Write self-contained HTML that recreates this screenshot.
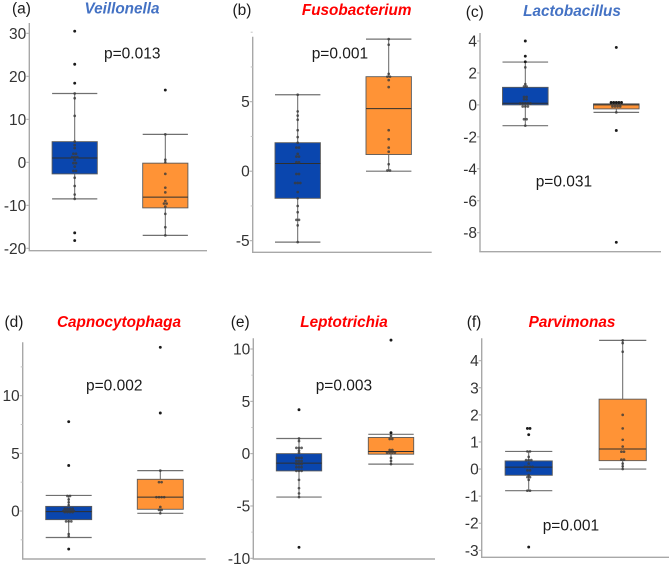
<!DOCTYPE html>
<html>
<head>
<meta charset="utf-8">
<title>Box plots of six bacterial genera</title>
<style>
html,body{margin:0;padding:0;background:#fff;}
svg{display:block;}
text{font-family:"Liberation Sans",sans-serif;}
.panel-label,.p-value{font-size:15.5px;fill:#1a1a1a;}
.genus{font-size:15.3px;font-weight:bold;font-style:italic;text-anchor:middle;}
.tick-label{font-size:15.5px;fill:#333;text-anchor:end;}
</style>
</head>
<body>
<svg id="figure" width="669" height="565" viewBox="0 0 669 565" xmlns="http://www.w3.org/2000/svg">
  <rect width="669" height="565" fill="#fff"/>
  <g id="charts"></g>

  <text class="panel-label" x="12" y="13.5">(a)</text>
  <text class="genus" x="122" y="13.5" fill="#4472C4">Veillonella</text>
  <text class="p-value" x="104" y="58.5">p=0.013</text>

  <text class="panel-label" x="232.5" y="15">(b)</text>
  <text class="genus" x="356.7" y="15" fill="#FF0000">Fusobacterium</text>
  <text class="p-value" x="311.7" y="58.5">p=0.001</text>

  <text class="panel-label" x="465.7" y="17">(c)</text>
  <text class="genus" x="572" y="16" fill="#4472C4">Lactobacillus</text>
  <text class="p-value" x="535.7" y="186.7">p=0.031</text>

  <text class="panel-label" x="4.5" y="327">(d)</text>
  <text class="genus" x="119" y="327" fill="#FF0000">Capnocytophaga</text>
  <text class="p-value" x="86" y="390.7">p=0.002</text>

  <text class="panel-label" x="230.7" y="327">(e)</text>
  <text class="genus" x="344" y="327" fill="#FF0000">Leptotrichia</text>
  <text class="p-value" x="315.7" y="390.7">p=0.003</text>

  <text class="panel-label" x="466.7" y="327">(f)</text>
  <text class="genus" x="572" y="327" fill="#FF0000">Parvimonas</text>
  <text class="p-value" x="542.7" y="530.3">p=0.001</text>
</svg>
<script>
// Box statistics: [lower whisker, Q1, median, Q3, upper whisker]
var aBlueBox = [-8.5, -2.7, 1, 4.8, 16];
var aOrangeBox = [-17, -10.6, -8.1, -0.2, 6.5];
var aBluePoints = [30.5, 22.8, 18.4, 16, 14.9, 10.8, 4.8, 4, 3.3, 2, 2, 1.2, 1.2, 1.2, 0.5, -0.2, -0.2, -1, -2, -2, -3.6, -5.5, -7.5, -8.5, -16.4, -18.2];
var aOrangePoints = [16.8, 6.5, 0.6, 0, -2.7, -5.9, -7, -9, -9.6, -9.6, -10.3, -12, -15.1, -17];
var aTicks = [30, 20, 10, 0, -10, -20];
var aMinor = [];

var bBlueBox = [-5.1, -1.95, 0.55, 2.05, 5.5];
var bOrangeBox = [0, 1.2, 4.5, 6.8, 9.5];
var bBluePoints = [5.5, 4.3, 4, 3.7, 2.95, 2.45, 2.05, 1.7, 1.7, 1.25, 1.05, 1.05, 0.65, 0.65, -0.2, -0.2, -0.85, -0.85, -0.85, -1.5, -1.95, -2.5, -2.95, -3.5, -3.5, -3.9, -5.1];
var bOrangePoints = [9.5, 9.1, 7, 6.8, 6.8, 6.55, 6.05, 2.95, 2.3, 1.7, 1.4, 0.5, 0.05, 0.05];
var bTicks = [5, 0, -5];
var bMinor = [10, 7.5, 2.5, -2.5];

var cBlueBox = [-1.3, 0, 0.1, 1.1, 2.68];
var cOrangeBox = [-0.47, -0.25, 0, 0.06, 0.06];
var cBluePoints = [4, 3.05, 2.7, 2.35, 1.3, 1.15, 1.15, 0.5, 0.5, 0.35, 0.35, 0.1, 0.1, 0.1, 0.1, 0.1, -0.1, -0.1, -0.1, -0.9, -0.9, -1.3];
var cOrangePoints = [3.6, 0.15, 0.15, 0.15, 0.15, 0.15, -0.1, -0.1, -0.1, -0.1, -0.47, -1.6, -8.6];
var cTicks = [4, 2, 0, -2, -4, -6, -8];
var cMinor = [];

var dBlueBox = [-2.3, -0.75, -0.05, 0.4, 1.35];
var dOrangeBox = [-0.2, 0.15, 1.2, 2.75, 3.5];
var dBluePoints = [7.75, 3.95, 1.3, 1.3, 1, 0.75, 0.5, 0.2, 0.2, 0.2, 0.2, 0, 0, 0, 0, 0, -0.1, -0.1, -0.1, -0.1, -0.9, -0.9, -0.9, -2, -2.2, -3.3];
var dOrangePoints = [14.2, 8.5, 3.5, 2.5, 2.5, 1.2, 1.2, 1.2, 1.2, 0.35, 0.1, 0.1, -0.2];
var dTicks = [10, 5, 0];
var dMinor = [12.5, 7.5, 2.5, -2.5];

var eBlueBox = [-4.15, -1.65, -0.9, 0, 1.45];
var eOrangeBox = [-1, -0.05, 0.2, 1.55, 1.85];
var eBluePoints = [4.2, 1.45, 1.2, 0.55, 0.55, 0.55, 0.3, 0.1, -0.4, -0.4, -0.4, -0.7, -0.7, -0.7, -1, -1, -1, -1.3, -1.3, -1.3, -1.65, -1.65, -1.65, -2.5, -3.3, -3.8, -4.15, -8.95];
var eOrangePoints = [10.85, 2, 1.7, 1.4, 1.4, 0.35, 0.35, 0.1, 0.1, 0.1, 0.1, -0.4, -0.7, -1];
var eTicks = [10, 5, 0, -5, -10];
var eMinor = [7.5, 2.5, -2.5, -7.5];

var fBlueBox = [-0.8, -0.23, 0.07, 0.3, 0.65];
var fOrangeBox = [0, 0.31, 0.74, 2.58, 4.75];
var fBluePoints = [1.5, 1.5, 1.27, 0.65, 0.65, 0.45, 0.33, 0.33, 0.33, 0.2, 0.08, 0.08, 0.08, 0.08, -0.05, -0.05, -0.23, -0.3, -0.3, -0.4, -0.8, -0.8, -2.88];
var fOrangePoints = [4.75, 4.65, 4.33, 2, 1.5, 1.08, 0.83, 0.64, 0.64, 0.35, 0.35, 0.2, 0.1, 0];
var fTicks = [4, 3, 2, 1, 0, -1, -2, -3];
var fMinor = [];

// Axis frames: plot rectangle plus two calibration anchors for the y scale.
var panels = [
  {id:'a', left:29.3, right:207, top:23, bottom:250.7, v1:30, y1:33.3, v2:-20, y2:248.3, cx:[74.7,165.3], hw:22.6, blueBox:aBlueBox, orangeBox:aOrangeBox, bluePts:aBluePoints, orangePts:aOrangePoints, ticks:aTicks, minor:aMinor},
  {id:'b', left:252.7, right:431.7, top:36.7, bottom:252.3, v1:5, y1:101.7, v2:-5, y2:240.7, cx:[297.7,388.7], hw:22.7, blueBox:bBlueBox, orangeBox:bOrangeBox, bluePts:bBluePoints, orangePts:bOrangePoints, ticks:bTicks, minor:bMinor},
  {id:'c', left:480, right:661, top:33, bottom:251.7, v1:4, y1:41, v2:-8, y2:232.7, cx:[525.3,616.3], hw:22.8, blueBox:cBlueBox, orangeBox:cOrangeBox, bluePts:cBluePoints, orangePts:cOrangePoints, ticks:cTicks, minor:cMinor},
  {id:'d', left:22.7, right:205.7, top:342.3, bottom:559, v1:10, y1:395.7, v2:0, y2:511, cx:[68.7,160.3], hw:23, blueBox:dBlueBox, orangeBox:dOrangeBox, bluePts:dBluePoints, orangePts:dOrangePoints, ticks:dTicks, minor:dMinor},
  {id:'e', left:253.3, right:435, top:338.3, bottom:559, v1:10, y1:349, v2:-10, y2:558.3, cx:[299,391], hw:22.7, blueBox:eBlueBox, orangeBox:eOrangeBox, bluePts:eBluePoints, orangePts:eOrangePoints, ticks:eTicks, minor:eMinor},
  {id:'f', left:481.7, right:669, top:338.3, bottom:557.3, v1:4, y1:360.7, v2:-3, y2:550.3, cx:[528.7,622.7], hw:23.6, blueBox:fBlueBox, orangeBox:fOrangeBox, bluePts:fBluePoints, orangePts:fOrangePoints, ticks:fTicks, minor:fMinor}
];

var NS = 'http://www.w3.org/2000/svg';
var root = document.getElementById('charts');

function make(tag, attrs, parent) {
  var el = document.createElementNS(NS, tag);
  for (var k in attrs) { el.setAttribute(k, attrs[k]); }
  parent.appendChild(el);
  return el;
}

function yScale(p) {
  var k = (p.y2 - p.y1) / (p.v2 - p.v1);
  return function (v) { return p.y1 + (v - p.v1) * k; };
}

function drawAxes(p, g, y) {
  var yAxis = make('line', {x1:p.left, x2:p.left, y1:p.top, y2:p.bottom, stroke:'#a8a8a8', 'stroke-width':1.4}, g);
  
  
  var xAxis = make('line', {x1:p.left - 0.7, x2:p.right, y1:p.bottom, y2:p.bottom, stroke:'#a8a8a8', 'stroke-width':1.4}, g);
  
  
  p.minor.forEach(function (v) {
    var m = make('line', {x1:p.left - 2, x2:p.left, y1:y(v), y2:y(v), stroke:'#c4c4c4', 'stroke-width':1}, g);
    
    
  });
  p.ticks.forEach(function (v) {
    var t = make('line', {x1:p.left - 3, x2:p.left, y1:y(v), y2:y(v), stroke:'#a8a8a8', 'stroke-width':1}, g);
    
    
    var label = make('text', {'class':'tick-label', x:p.left - 3, y:y(v) + 5.5}, g);
    
    
    label.textContent = String(v);
  });
}

function drawBox(p, g, y, cx, stats, pts, fill, name) {
  var lo = stats[0], q1 = stats[1], med = stats[2], q3 = stats[3], hi = stats[4];
  var group = make('g', {}, g);
  
  

  var stem = make('line', {x1:cx, x2:cx, y1:y(hi), y2:y(lo), stroke:'#666', 'stroke-width':1}, group);
  
  

  [hi, lo].forEach(function (v) {
    var cap = make('line', {x1:cx - p.hw, x2:cx + p.hw, y1:y(v), y2:y(v), stroke:'#707070', 'stroke-width':1.2}, group);
    
    
  });

  var box = make('rect', {x:cx - p.hw, y:y(q3), width:p.hw * 2, height:Math.max(y(q1) - y(q3), 1), fill:fill, stroke:'#5a5a5a', 'stroke-width':0.9}, group);
  
  

  var median = make('line', {x1:cx - p.hw, x2:cx + p.hw, y1:y(med), y2:y(med), stroke:'#2f2f2f', 'stroke-width':1}, group);
  
  

  // Tied values are dodged sideways, the way a beeswarm overlay spreads them.
  var counts = {};
  pts.forEach(function (v) { counts[v] = (counts[v] || 0) + 1; });
  var seen = {};
  pts.forEach(function (v) {
    var i = seen[v] || 0;
    seen[v] = i + 1;
    var dx = (i - (counts[v] - 1) / 2) * 2.6;
    var outside = v > hi || v < lo;
    var dot = make('circle', {cx:cx + dx, cy:y(v), r:outside ? 1.45 : 1.35, fill:outside ? '#1a1a1a' : '#3a3a3a', opacity:outside ? 1 : 0.8}, group);
    
    
  });
}

panels.forEach(function (p) {
  var g = make('g', {}, root);
  
  
  var y = yScale(p);
  drawAxes(p, g, y);
  drawBox(p, g, y, p.cx[0], p.blueBox, p.bluePts, '#0A46AE', 'blue-group-box');
  drawBox(p, g, y, p.cx[1], p.orangeBox, p.orangePts, '#FF9336', 'orange-group-box');
});
</script>
</body>
</html>
